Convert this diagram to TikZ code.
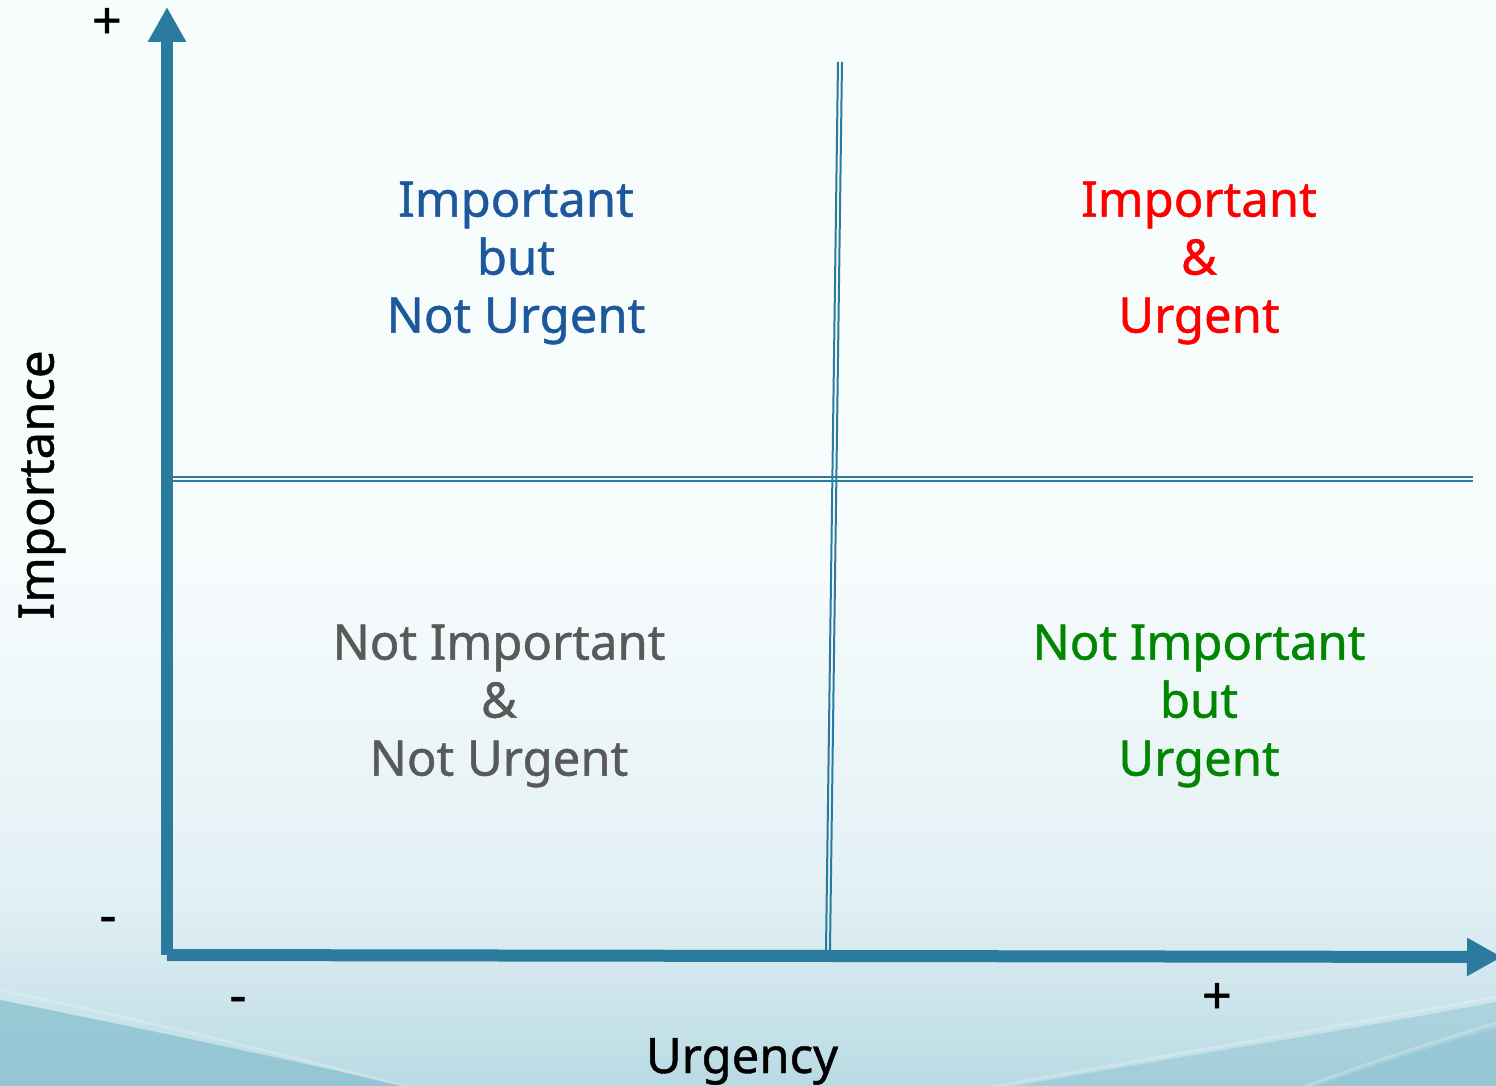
\documentclass[tikz,border=0pt]{standalone}
\usepackage{fontspec}
\setmainfont{Noto Sans}[BoldFont=Noto Sans, BoldFeatures={FakeBold=0.9}]
\usetikzlibrary{arrows.meta}

\definecolor{axisblue}{RGB}{42,123,158}
\definecolor{qblue}{RGB}{30,88,156}
\definecolor{qred}{RGB}{255,0,0}
\definecolor{qgray}{RGB}{89,89,89}
\definecolor{qgreen}{RGB}{0,134,0}
\definecolor{bgtop}{RGB}{247,252,253}
\definecolor{bgmid}{RGB}{226,240,244}
\definecolor{bgbot}{RGB}{184,218,227}
\definecolor{wave}{RGB}{128,187,203}

\begin{document}
\begin{tikzpicture}[x=0.5pt,y=-0.5pt,
  axis/.style={draw=axisblue, line width=6pt, -{Triangle[width=18pt,length=17.5pt]}},
  divider/.style={draw=axisblue, line width=1pt},
  quad/.style={font=\fontsize{24.5}{29}\selectfont\bfseries, align=center, inner sep=0pt},
  sign/.style={font=\fontsize{26}{30}\selectfont\bfseries, text=black, inner sep=0pt, anchor=base},
  axlabel/.style={font=\fontsize{24.5}{29}\selectfont\bfseries, text=black, inner sep=0pt},
  streak/.style={draw=white, line width=1.5pt, opacity=0.22}]

\useasboundingbox (0,0) rectangle (1496,1086);
\clip (0,0) rectangle (1496,1086);

% background: pale cyan fading into blue at the bottom
\fill[bgtop] (0,0) rectangle (1496,561);
\shade[top color=bgtop, bottom color=bgmid] (0,560) rectangle (1496,901);
\shade[top color=bgmid, bottom color=bgbot] (0,900) rectangle (1496,1090);

% waves in the lower corners
\fill[wave, opacity=0.65] (0,1000) .. controls (150,1030) and (300,1062) .. (430,1092) -- (0,1092) -- cycle;
\draw[streak] (0,990) .. controls (150,1022) and (290,1056) .. (420,1090);
\fill[wave, opacity=0.4] (1496,1002) .. controls (1320,1035) and (1150,1062) .. (980,1092) -- (1496,1092) -- cycle;
\draw[streak] (1496,997) .. controls (1320,1030) and (1150,1058) .. (975,1090);
\fill[wave, opacity=0.4] (1496,1028) .. controls (1420,1050) and (1360,1070) .. (1300,1092) -- (1496,1092) -- cycle;
\draw[streak] (1496,1023) .. controls (1420,1046) and (1360,1066) .. (1295,1090);

% quadrant dividers (double rules)
\coordinate (htl) at (172,479);
\coordinate (htr) at (1473,479);
\coordinate (vtop) at (840,62);
\coordinate (vbot) at (828,950);
\draw[divider] ([yshift=1pt]htl) -- ([yshift=1pt]htr);
\draw[divider] ([yshift=-1pt]htl) -- ([yshift=-1pt]htr);
\draw[divider] ([xshift=-1pt]vtop) -- ([xshift=-1pt]vbot);
\draw[divider] ([xshift=1pt]vtop) -- ([xshift=1pt]vbot);

% axes
\coordinate (origin) at (167,955);
\coordinate (ytip) at (167,7);
\coordinate (xtip) at (1502,957);
\draw[axis] (origin) -- (ytip);
\draw[axis] (origin) -- (xtip);

% axis end marks
\node[sign] (yplus) at (107,39) {+};
\node[sign] (yminus) at (108,933) {-};
\node[sign] (xminus) at (238,1013) {-};
\node[sign] (xplus) at (1217,1014) {+};

% axis titles
\node[axlabel, rotate=90] (ylabel) at (42,485) {Importance};
\node[axlabel, anchor=base] (xlabel) at (742,1073) {Urgency};

% quadrants
\node[quad, text=qblue] (tl) at (516,263) {Important\\but\\Not Urgent};
\node[quad, text=qred] (tr) at (1199,263) {Important\\\&\\Urgent};
\node[quad, text=qgray] (bl) at (499,706) {Not Important\\\&\\Not Urgent};
\node[quad, text=qgreen] (br) at (1199,706) {Not Important\\but\\Urgent};
\end{tikzpicture}
\end{document}
